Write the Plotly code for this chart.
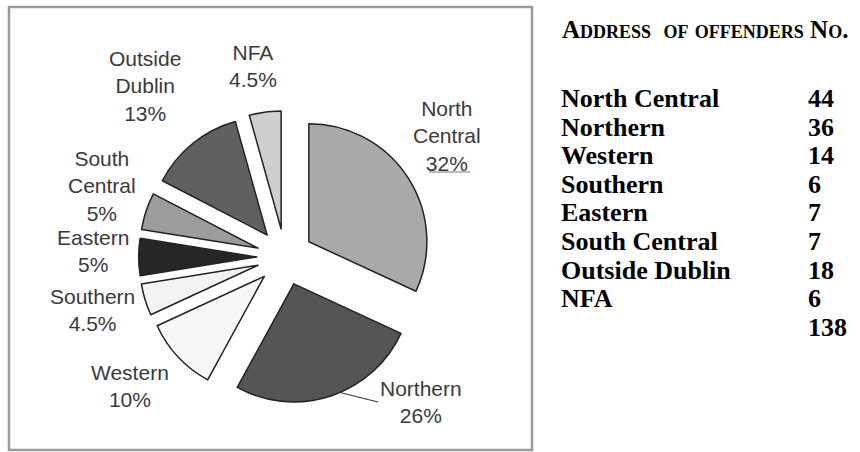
import plotly.graph_objects as go

# ---- data ----
regions = ["North Central", "Northern", "Western", "Southern", "Eastern",
           "South Central", "Outside Dublin", "NFA"]
counts = [44, 36, 14, 6, 7, 7, 18, 6]
pie_labels = ["North<br>Central<br>32%", "Northern<br>26%", "Western<br>10%",
              "Southern<br>4.5%", "Eastern<br>5%", "South<br>Central<br>5%",
              "Outside<br>Dublin<br>13%", "NFA<br>4.5%"]
total = 138
table_title = "Address\u00a0 of offenders No."

# ---- style ----
W, H = 860, 452
colors = ["#a9a9a9", "#555555", "#f7f7f7", "#f3f3f3", "#262626",
          "#9c9c9c", "#606060", "#cfcfcf"]
# label anchor points (pixels) for pie labels
label_pos = [(447, 136), (421, 402), (130, 386), (92, 310), (93, 251),
             (102, 186), (145, 86), (253, 66)]


def px(x):
    return x / W


def py(y):
    return 1 - y / H


pull = 0.24
r_target = 118
half = r_target * (1 + pull)
cx, cy = 285, 257

fig = go.Figure()
fig.add_trace(go.Pie(
    values=counts, labels=regions, sort=False, direction="clockwise",
    rotation=0, pull=[pull] * len(counts),
    marker=dict(colors=colors, line=dict(color="#222222", width=1.5)),
    textinfo="none", hoverinfo="label+value+percent", showlegend=False,
    domain=dict(x=[px(cx - half), px(cx + half)],
                y=[py(cy + half), py(cy - half)]),
))

annotations = []
for txt, (x, y) in zip(pie_labels, label_pos):
    annotations.append(dict(
        x=px(x), y=py(y), xref="paper", yref="paper", text=txt,
        showarrow=False, xanchor="center", yanchor="middle",
        font=dict(family="Liberation Sans, Arial, sans-serif", size=21,
                  color="#3a3a3a"),
    ))

# table on the right
serif = "Liberation Serif, Times New Roman, serif"
annotations.append(dict(
    x=px(560), y=py(30), xref="paper", yref="paper", text=table_title,
    showarrow=False, xanchor="left", yanchor="middle",
    font=dict(family=serif, size=25, color="#000000", weight=700,
              variant="small-caps"),
))
row_y0, row_dy = 98.5, 28.6
for i, (name, n) in enumerate(zip(regions, counts)):
    y = row_y0 + i * row_dy
    annotations.append(dict(
        x=px(559), y=py(y), xref="paper", yref="paper", text=name,
        showarrow=False, xanchor="left", yanchor="middle",
        font=dict(family=serif, size=26, color="#000000", weight=700),
    ))
    annotations.append(dict(
        x=px(806), y=py(y), xref="paper", yref="paper", text=str(n),
        showarrow=False, xanchor="left", yanchor="middle",
        font=dict(family=serif, size=26, color="#000000", weight=700),
    ))
annotations.append(dict(
    x=px(806), y=py(row_y0 + len(regions) * row_dy), xref="paper",
    yref="paper", text=str(total), showarrow=False, xanchor="left",
    yanchor="middle",
    font=dict(family=serif, size=26, color="#000000", weight=700),
))

shapes = [
    # chart frame
    dict(type="rect", xref="paper", yref="paper", x0=px(9), x1=px(532),
         y0=py(450), y1=py(7), line=dict(color="#9a9a9a", width=2.5)),
    # leader lines
    dict(type="line", xref="paper", yref="paper", x0=px(338), y0=py(392),
         x1=px(378), y1=py(402), line=dict(color="#333333", width=1.2)),
    dict(type="line", xref="paper", yref="paper", x0=px(429), y0=py(172),
         x1=px(470), y1=py(172), line=dict(color="#777777", width=1)),
]

fig.update_layout(
    width=W, height=H, margin=dict(l=0, r=0, t=0, b=0),
    paper_bgcolor="white", plot_bgcolor="white",
    annotations=annotations, shapes=shapes,
)

fig.write_html("out.html")
